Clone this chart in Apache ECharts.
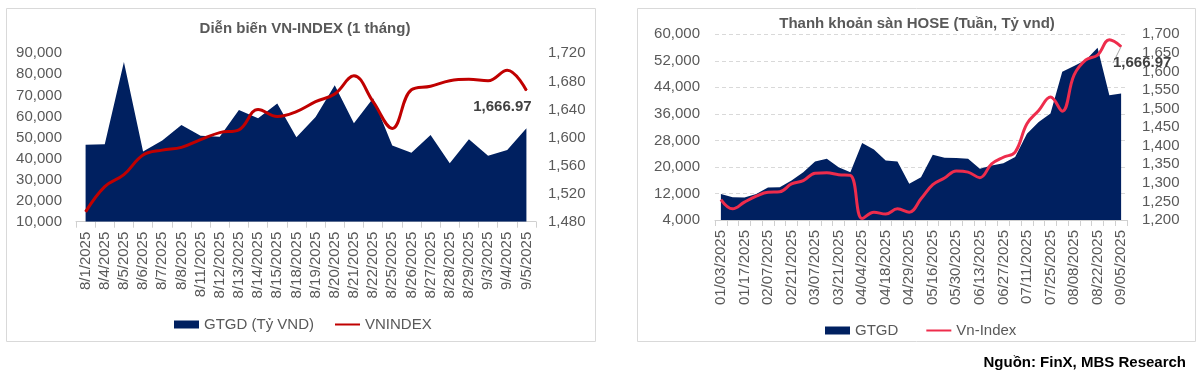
<!DOCTYPE html>
<html>
<head>
<meta charset="utf-8">
<script src="https://cdn.jsdelivr.net/npm/echarts@6/dist/echarts.min.js"></script>
<style>
html,body{margin:0;padding:0;background:#fff;}
#c{width:1200px;height:377px;}
</style>
</head>
<body>
<div id="c"></div>
<script>
// ---- Left chart data (1 month, daily) ----
const dayCats = ['8/1/2025','8/4/2025','8/5/2025','8/6/2025','8/7/2025','8/8/2025','8/11/2025','8/12/2025','8/13/2025','8/14/2025','8/15/2025','8/18/2025','8/19/2025','8/20/2025','8/21/2025','8/22/2025','8/25/2025','8/26/2025','8/27/2025','8/28/2025','8/29/2025','9/3/2025','9/4/2025','9/5/2025'];
const dayGTGD = [46600, 46800, 85900, 43300, 48600, 55900, 50800, 50300, 63100, 59100, 66100, 50100, 59700, 74800, 56800, 68600, 46200, 42800, 51200, 37800, 49200, 41300, 44100, 54400];
const dayVNI = [1494, 1530, 1547, 1575, 1582, 1586, 1597, 1607, 1611, 1640, 1630, 1637, 1651, 1662, 1688, 1651, 1613, 1668, 1673, 1681, 1683, 1681, 1696, 1666.97];

// ---- Right chart data (weekly) ----
const weekCats = ['01/03/2025','01/10/2025','01/17/2025','01/24/2025','02/07/2025','02/14/2025','02/21/2025','02/28/2025','03/07/2025','03/14/2025','03/21/2025','03/28/2025','04/04/2025','04/11/2025','04/18/2025','04/25/2025','04/29/2025','05/09/2025','05/16/2025','05/23/2025','05/30/2025','06/06/2025','06/13/2025','06/20/2025','06/27/2025','07/04/2025','07/11/2025','07/18/2025','07/25/2025','08/01/2025','08/08/2025','08/15/2025','08/22/2025','08/29/2025','09/05/2025'];
const weekGTGD = [11870, 10860, 10760, 11870, 13790, 13890, 15900, 18430, 21660, 22460, 19940, 18430, 27200, 25290, 21960, 21660, 14900, 16900, 23670, 22770, 22660, 22460, 19440, 20450, 21150, 22970, 30030, 33560, 36090, 48700, 50410, 52230, 55960, 41640, 42140];
const weekVNI = [1255, 1230, 1248, 1264, 1275, 1276, 1297, 1306, 1326, 1327, 1322, 1320, 1204, 1221, 1216, 1230, 1221, 1257, 1295, 1313, 1332, 1329, 1314, 1351, 1369, 1383, 1459, 1495, 1531, 1493, 1590, 1631, 1644, 1685, 1666.97];

// ---- Texts ----
const titleLeft = 'Diễn biến VN-INDEX (1 tháng)';
const titleRight = 'Thanh khoản sàn HOSE (Tuần, Tỷ vnd)';
const sourceText = 'Nguồn: FinX, MBS Research';
const lastLabel = '1,666.97';

const FONT = '"Liberation Sans", Arial, sans-serif';
const GREY = '#595959';
const NAVY = '#002060';

const chart = echarts.init(document.getElementById('c'), null, {renderer: 'canvas'});

function withLastLabel(arr, labelOpt) {
  return arr.map((v, i) => i === arr.length - 1
    ? {value: v, symbol: 'circle', symbolSize: 1, label: labelOpt}
    : v);
}

const axLabel = {color: GREY, fontSize: 15, fontFamily: FONT};
const hideDot = {opacity: 0};

const option = {
  animation: false,
  textStyle: {fontFamily: FONT},
  title: [
    {text: titleLeft, left: 300, top: 16, textAlign: 'center',
     textStyle: {fontSize: 15, fontWeight: 'bold', color: GREY, fontFamily: FONT}},
    {text: titleRight, left: 912, top: 11, textAlign: 'center',
     textStyle: {fontSize: 15, fontWeight: 'bold', color: GREY, fontFamily: FONT}}
  ],
  legend: [
    {left: 169, top: 312, itemWidth: 25, itemHeight: 8, itemGap: 20,
     textStyle: {color: GREY, fontSize: 15, fontFamily: FONT},
     data: [{name: 'GTGD (Tỷ VND)', icon: 'rect'}, {name: 'VNINDEX', itemStyle: hideDot}]},
    {left: 820, top: 318, itemWidth: 25, itemHeight: 8, itemGap: 27,
     textStyle: {color: GREY, fontSize: 15, fontFamily: FONT},
     data: [{name: 'GTGD', icon: 'rect'}, {name: 'Vn-Index', itemStyle: hideDot}]}
  ],
  grid: [
    {left: 76, top: 53.3, width: 460, height: 168.4},
    {left: 715, top: 34.3, width: 412, height: 185.7}
  ],
  xAxis: [
    {type: 'category', gridIndex: 0, data: dayCats, boundaryGap: true,
     axisLine: {lineStyle: {color: '#d0d0d0'}},
     axisTick: {show: true, length: 6, lineStyle: {color: '#d0d0d0'}},
     axisLabel: Object.assign({}, axLabel, {rotate: 90, interval: 0, margin: 10})},
    {type: 'category', gridIndex: 1, data: weekCats, boundaryGap: true,
     axisLine: {lineStyle: {color: '#d0d0d0'}},
     axisTick: {show: true, interval: 0, length: 6, lineStyle: {color: '#d0d0d0'}},
     axisLabel: Object.assign({}, axLabel, {rotate: 90, interval: 1, margin: 10})}
  ],
  yAxis: [
    {type: 'value', gridIndex: 0, position: 'left', min: 10000, max: 90000, interval: 10000,
     splitLine: {show: false}, axisLine: {show: false}, axisTick: {show: false},
     axisLabel: Object.assign({}, axLabel, {margin: 14})},
    {type: 'value', gridIndex: 0, position: 'right', min: 1480, max: 1720, interval: 40,
     splitLine: {show: false}, axisLine: {show: false}, axisTick: {show: false},
     axisLabel: Object.assign({}, axLabel, {margin: 12})},
    {type: 'value', gridIndex: 1, position: 'left', min: 4000, max: 60000, interval: 8000,
     splitLine: {show: true, lineStyle: {color: '#d9d9d9', type: [4, 3]}},
     axisLine: {show: false}, axisTick: {show: false},
     axisLabel: Object.assign({}, axLabel, {margin: 15})},
    {type: 'value', gridIndex: 1, position: 'right', min: 1200, max: 1700, interval: 50,
     splitLine: {show: false}, axisLine: {show: false}, axisTick: {show: false},
     axisLabel: Object.assign({}, axLabel, {margin: 15})}
  ],
  series: [
    {name: 'GTGD (Tỷ VND)', type: 'line', xAxisIndex: 0, yAxisIndex: 0, data: dayGTGD,
     symbol: 'none', lineStyle: {width: 0}, itemStyle: {color: NAVY},
     areaStyle: {color: NAVY, opacity: 1, origin: 'start'}, z: 2},
    {name: 'VNINDEX', type: 'line', xAxisIndex: 0, yAxisIndex: 1, smooth: 0.4,
     symbol: 'none', lineStyle: {width: 3, color: '#C00000'}, itemStyle: {color: '#C00000'}, z: 3,
     data: withLastLabel(dayVNI, {show: true, position: 'bottom', offset: [-24, 3],
       formatter: lastLabel, fontSize: 15, fontWeight: 'bold', color: '#404040', fontFamily: FONT})},
    {name: 'GTGD', type: 'line', xAxisIndex: 1, yAxisIndex: 2, data: weekGTGD,
     symbol: 'none', lineStyle: {width: 0}, itemStyle: {color: NAVY},
     areaStyle: {color: NAVY, opacity: 1, origin: 'start'}, z: 2},
    {name: 'Vn-Index', type: 'line', xAxisIndex: 1, yAxisIndex: 3, smooth: 0.4,
     symbol: 'none', lineStyle: {width: 3, color: '#EE2C4C'}, itemStyle: {color: '#EE2C4C'}, z: 3,
     labelLine: {show: true, lineStyle: {color: '#a6a6a6', width: 1}},
     labelLayout: function () {
       return {x: 1113, y: 63, align: 'left', verticalAlign: 'middle'};
     },
     data: withLastLabel(weekVNI, {show: true, formatter: lastLabel, fontSize: 15,
       fontWeight: 'bold', color: '#404040', fontFamily: FONT})}
  ],
  graphic: [
    {type: 'rect', shape: {x: 6.5, y: 8.5, width: 589, height: 333},
     style: {fill: null, stroke: '#d9d9d9', lineWidth: 1}, silent: true, z: -1},
    {type: 'rect', shape: {x: 637.5, y: 8.5, width: 558, height: 333},
     style: {fill: null, stroke: '#d9d9d9', lineWidth: 1}, silent: true, z: -1},
    {type: 'text', right: 14, top: 355,
     style: {text: sourceText, fill: '#000', font: 'bold 15px ' + FONT}}
  ]
};

chart.setOption(option);
</script>
</body>
</html>
